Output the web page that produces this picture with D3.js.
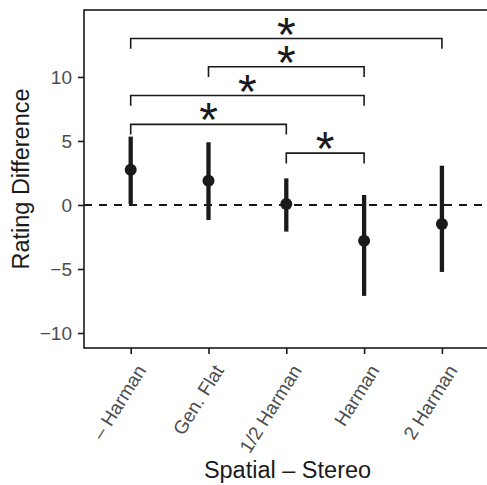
<!DOCTYPE html>
<html>
<head>
<meta charset="utf-8">
<script src="https://cdn.jsdelivr.net/npm/d3@7"></script>
<style>
  body { margin: 0; background: #fff; }
  svg { display: block; font-family: "Liberation Sans", Arial, sans-serif; }
</style>
</head>
<body>
<div id="chart"></div>
<script>
// categories and values
const categories = ["\u2013 Harman", "Gen. Flat", "1/2 Harman", "Harman", "2 Harman"];
const means = [2.75, 1.9, 0.08, -2.8, -1.48];
const lower = [0.08, -1.17, -2.08, -7.1, -5.23];
const upper = [5.34, 4.9, 2.08, 0.78, 3.07];
const bracketFrom = [0, 1, 0, 0, 2];
const bracketTo = [4, 3, 3, 2, 3];
const bracketY = [13.0, 10.8, 8.55, 6.3, 4.05];
const yTicks = [-10, -5, 0, 5, 10];

const w = 487;
const h = 485;
const padL = 84, padR = 488.6, padT = 10, padB = 348;
const ink = "#1a1a1a";
const tickFont = "19px";
const titleFont = "23.5px";

const dataset = categories.map((c, i) => ({
  cat: c, mean: means[i], lo: lower[i], hi: upper[i]
}));

const svg = d3.select("#chart").append("svg")
  .attr("width", w)
  .attr("height", h);

const xScale = d3.scalePoint()
  .domain(categories)
  .range([padL, padR])
  .padding(0.6);

const yScale = d3.scaleLinear()
  .domain([-11.17, 15.23])
  .range([padB, padT]);

// zero reference line
svg.append("line")
  .attr("x1", padL).attr("x2", padR)
  .attr("y1", yScale(0)).attr("y2", yScale(0))
  .attr("stroke", ink)
  .attr("stroke-width", 2)
  .attr("stroke-dasharray", "8,7");

// error bars
svg.selectAll(".err")
  .data(dataset)
  .enter()
  .append("line")
  .attr("class", "err")
  .attr("x1", d => xScale(d.cat)).attr("x2", d => xScale(d.cat))
  .attr("y1", d => yScale(d.lo)).attr("y2", d => yScale(d.hi))
  .attr("stroke", ink)
  .attr("stroke-width", 4.3);

svg.selectAll(".dot")
  .data(dataset)
  .enter()
  .append("circle")
  .attr("class", "dot")
  .attr("cx", d => xScale(d.cat))
  .attr("cy", d => yScale(d.mean))
  .attr("r", 6)
  .attr("fill", ink);

// significance brackets
const tickLen = 0.8;
const brackets = bracketFrom.map((f, i) => ({ a: categories[f], b: categories[bracketTo[i]], y: bracketY[i] }));
const bg = svg.append("g");
brackets.forEach(d => {
  const x1 = xScale(d.a), x2 = xScale(d.b);
  bg.append("path")
    .attr("d", "M" + x1 + "," + yScale(d.y - tickLen) + "V" + yScale(d.y) + "H" + x2 + "V" + yScale(d.y - tickLen))
    .attr("fill", "none")
    .attr("stroke", ink)
    .attr("stroke-width", 1.6);
  bg.append("text")
    .attr("x", (x1 + x2) / 2)
    .attr("y", yScale(d.y) + 12)
    .attr("text-anchor", "middle")
    .style("font-size", "48px")
    .attr("fill", ink)
    .text("*");
});

// panel border
svg.append("rect")
  .attr("x", padL).attr("y", padT)
  .attr("width", padR - padL).attr("height", padB - padT)
  .attr("fill", "none")
  .attr("stroke", ink)
  .attr("stroke-width", 1.6);

// y axis
const yAxis = d3.axisLeft(yScale)
  .tickValues(yTicks)
  .tickSize(6)
  .tickPadding(6)
  .tickFormat(d => d < 0 ? "\u2212" + Math.abs(d) : d);

const yG = svg.append("g")
  .attr("transform", "translate(" + padL + ",0)")
  .call(yAxis);
yG.select(".domain").remove();
yG.selectAll("line").attr("stroke", ink).attr("stroke-width", 1.6);
yG.selectAll("text").attr("fill", "#4d4d4d").style("font-size", tickFont)
  .style("font-family", "'Liberation Sans', Arial, sans-serif");

// x axis
const xAxis = d3.axisBottom(xScale).tickSize(6).tickPadding(0);
const xG = svg.append("g")
  .attr("transform", "translate(0," + padB + ")")
  .call(xAxis);
xG.select(".domain").remove();
xG.selectAll("line").attr("stroke", ink).attr("stroke-width", 1.6);
xG.selectAll("text")
  .attr("fill", "#4d4d4d")
  .style("font-size", tickFont)
  .style("font-family", "'Liberation Sans', Arial, sans-serif")
  .attr("text-anchor", "end")
  .attr("x", 0)
  .attr("y", 0)
  .attr("dy", "0.72em")
  .attr("transform", "translate(4,15) rotate(-58)");

// axis titles
svg.append("text")
  .attr("transform", "translate(28.5," + ((padT + padB) / 2) + ") rotate(-90)")
  .attr("text-anchor", "middle")
  .style("font-size", titleFont)
  .attr("fill", ink)
  .text("Rating Difference");

svg.append("text")
  .attr("x", 287.5)
  .attr("y", 478)
  .attr("text-anchor", "middle")
  .style("font-size", titleFont)
  .attr("fill", ink)
  .text("Spatial \u2013 Stereo");
</script>
</body>
</html>
